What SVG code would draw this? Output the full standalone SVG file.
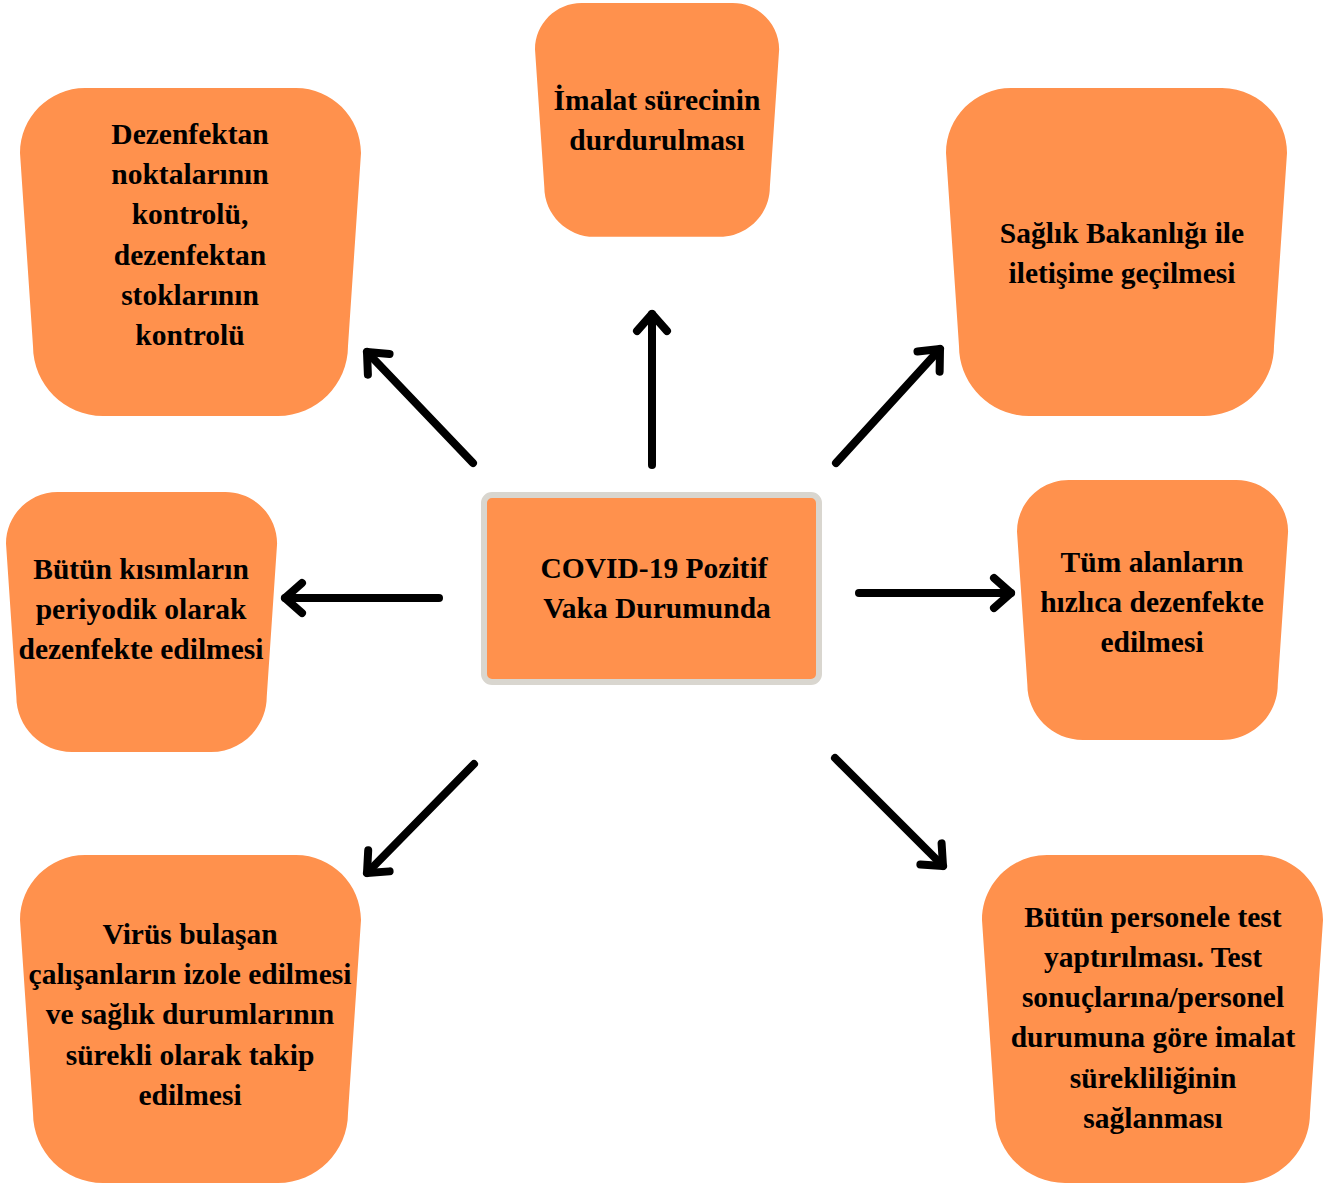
<svg xmlns="http://www.w3.org/2000/svg" xmlns:xlink="http://www.w3.org/1999/xlink" width="1336" height="1188" viewBox="0 0 1336 1188">
<style>
.shape{fill:#FF914D;}
.lbl{font-family:'Liberation Serif','Times New Roman',serif;font-weight:700;font-size:29.5px;fill:#000;text-anchor:middle;}
.conn{fill:none;stroke:#000;stroke-width:8;stroke-linecap:round;}
</style>
<defs>
<path id="cup" d="M65,0 H276 C311.75,0 341,29.25 341,65 L328,258 C328,296.5 296.5,328 258,328 H83 C44.5,328 13,296.5 13,258 L0,65 C0,29.25 29.25,0 65,0 Z"/>
<marker id="ah" markerUnits="userSpaceOnUse" markerWidth="50" markerHeight="50" refX="0" refY="0" orient="auto" viewBox="-30 -25 50 50" overflow="visible">
<path d="M-17,-15 L0,0 L-17,15" fill="none" stroke="#000" stroke-width="8" stroke-linecap="round" stroke-linejoin="round"/>
</marker>
</defs>
<rect width="1336" height="1188" fill="#fff"/>
<g id="connectors">
<path class="conn" d="M652,465 L652,314" marker-end="url(#ah)"/>
<path class="conn" d="M473,463 L367,352" marker-end="url(#ah)"/>
<path class="conn" d="M836,463 L940,349" marker-end="url(#ah)"/>
<path class="conn" d="M439,598 L285,598" marker-end="url(#ah)"/>
<path class="conn" d="M859,593 L1011,593" marker-end="url(#ah)"/>
<path class="conn" d="M474,764 L367,873" marker-end="url(#ah)"/>
<path class="conn" d="M835,758 L943,866" marker-end="url(#ah)"/>
</g>
<g id="center">
<rect x="484" y="495" width="335" height="187" rx="8" fill="#FF914D" stroke="#D9D6CF" stroke-width="6"/>
<text class="lbl" x="654" y="578">COVID-19 Pozitif</text>
<text class="lbl" x="657" y="618">Vaka Durumunda</text>
</g>
<g id="node-dezenfektan">
<use xlink:href="#cup" class="shape" transform="translate(20,88)"/>
<text class="lbl" x="190" y="144">Dezenfektan</text>
<text class="lbl" x="190" y="184">noktalarının</text>
<text class="lbl" x="190" y="224">kontrolü,</text>
<text class="lbl" x="190" y="265">dezenfektan</text>
<text class="lbl" x="190" y="305">stoklarının</text>
<text class="lbl" x="190" y="345">kontrolü</text>
</g>
<g id="node-imalat">
<use xlink:href="#cup" class="shape" transform="translate(535,3) scale(0.716,0.713)"/>
<text class="lbl" x="657" y="110">İmalat sürecinin</text>
<text class="lbl" x="657" y="150">durdurulması</text>
</g>
<g id="node-saglik">
<use xlink:href="#cup" class="shape" transform="translate(946,88)"/>
<text class="lbl" x="1122" y="243">Sağlık Bakanlığı ile</text>
<text class="lbl" x="1122" y="283">iletişime geçilmesi</text>
</g>
<g id="node-periyodik">
<use xlink:href="#cup" class="shape" transform="translate(6,492) scale(0.795,0.793)"/>
<text class="lbl" x="141" y="579">Bütün kısımların</text>
<text class="lbl" x="141" y="619">periyodik olarak</text>
<text class="lbl" x="141" y="659">dezenfekte edilmesi</text>
</g>
<g id="node-alanlar">
<use xlink:href="#cup" class="shape" transform="translate(1017,480) scale(0.795,0.793)"/>
<text class="lbl" x="1152" y="572">Tüm alanların</text>
<text class="lbl" x="1152" y="612">hızlıca dezenfekte</text>
<text class="lbl" x="1152" y="652">edilmesi</text>
</g>
<g id="node-izole">
<use xlink:href="#cup" class="shape" transform="translate(20,855)"/>
<text class="lbl" x="190" y="944">Virüs bulaşan</text>
<text class="lbl" x="190" y="984">çalışanların izole edilmesi</text>
<text class="lbl" x="190" y="1024">ve sağlık durumlarının</text>
<text class="lbl" x="190" y="1065">sürekli olarak takip</text>
<text class="lbl" x="190" y="1105">edilmesi</text>
</g>
<g id="node-test">
<use xlink:href="#cup" class="shape" transform="translate(982,855)"/>
<text class="lbl" x="1153" y="927">Bütün personele test</text>
<text class="lbl" x="1153" y="967">yaptırılması. Test</text>
<text class="lbl" x="1153" y="1007">sonuçlarına/personel</text>
<text class="lbl" x="1153" y="1047">durumuna göre imalat</text>
<text class="lbl" x="1153" y="1088">sürekliliğinin</text>
<text class="lbl" x="1153" y="1128">sağlanması</text>
</g>
</svg>
